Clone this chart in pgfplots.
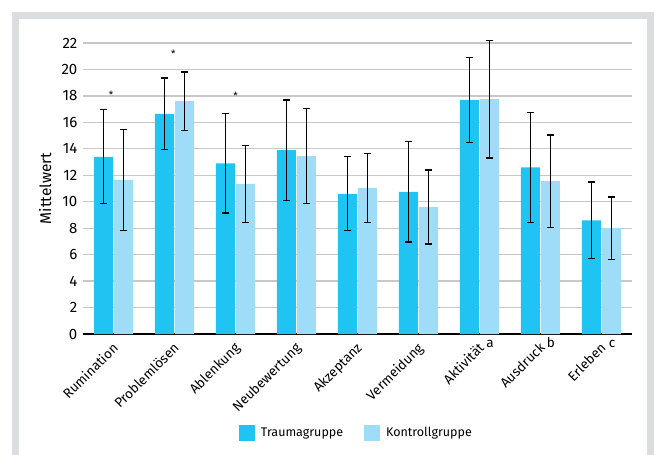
\documentclass[border=0pt]{standalone}
\usepackage{pgfplots}
\pgfplotsset{compat=1.18}
\usepackage{pgfplotstable}
\usepackage{fontspec}
\setmainfont{Fira Sans}
\definecolor{trauma}{RGB}{32,196,242}
\definecolor{kontroll}{RGB}{158,220,247}
\definecolor{framec}{RGB}{220,221,223}
\definecolor{gridc}{RGB}{200,200,200}

\pgfplotstableread{
x y e
0 13.40 3.55
1 16.65 2.70
2 12.90 3.75
3 13.90 3.80
4 10.60 2.80
5 10.75 3.80
6 17.70 3.20
7 12.60 4.15
8 8.60 2.90
}\traumadata

\pgfplotstableread{
x y e
0 11.65 3.80
1 17.60 2.20
2 11.35 2.90
3 13.45 3.60
4 11.05 2.60
5 9.60 2.80
6 17.75 4.45
7 11.55 3.50
8 8.00 2.35
}\kontrolldata

\pgfplotsset{myerr/.style={
  error bars/y dir=both, error bars/y explicit,
  error bars/error bar style={black, line width=1.3bp},
  error bars/error mark options={black, line width=1.3bp, mark size=3.7bp, rotate=90}}}

\begin{document}
\begin{tikzpicture}
\useasboundingbox (0bp,0bp) rectangle (655bp,-455bp);
\fill[white] (0bp,0bp) rectangle (655bp,-455bp);
\draw[framec, line width=7.3bp, line join=miter] (15.6bp,-470bp) -- (15.6bp,-15.6bp) -- (650.6bp,-15.6bp) -- (650.6bp,-470bp);
\begin{axis}[
  at={(83bp,-334bp)}, anchor=south west,
  scale only axis, width=549bp, height=291bp,
  xmin=-0.5, xmax=8.5, ymin=0, ymax=22,
  clip=false,
  ybar, bar width=19bp,
  axis x line=bottom, axis y line=left,
  axis line style={-},
  x axis line style={black, line width=1.2bp},
  y axis line style={draw=none},
  xtick={0,...,8},
  xticklabels={Rumination,Problemlösen,Ablenkung,Neubewertung,Akzeptanz,Vermeidung,Aktivität,Ausdruck,Erleben},
  xtick style={draw=none}, ytick style={draw=none},
  ytick={0,2,...,22},
  ymajorgrids, major grid style={gridc, line width=1.3bp},
  /pgf/number format/assume math mode=true,
  tick label style={text=black},
  yticklabel style={font=\fontsize{15bp}{17bp}\selectfont, xshift=0bp},
  xticklabel style={font=\fontsize{13.5bp}{15bp}\selectfont, xshift=-2bp, yshift=-4bp, rotate=45, anchor=north east, inner sep=1bp},
  ylabel={Mittelwert},
  ylabel style={font=\fontsize{15.5bp}{17bp}\selectfont, at={(axis description cs:-0.069,0.5)}, anchor=center},
  legend columns=2,
  legend style={draw=none, at={(0.498,-0.34)}, anchor=center, font=\fontsize{12.5bp}{14bp}\selectfont,
    /tikz/every even column/.append style={column sep=19bp}},
  legend image code/.code={\path (0bp,0bp) -- (20bp,0bp); \fill[#1,draw=none] (0bp,-8bp) rectangle (16bp,8bp);},
]
\addplot[fill=trauma, draw=none, bar shift=-10bp, myerr] table[x=x, y=y, y error=e] {\traumadata};
\addplot[fill=kontroll, draw=none, bar shift=10bp, myerr] table[x=x, y=y, y error=e] {\kontrolldata};
\legend{Traumagruppe, Kontrollgruppe}
\node[font=\fontsize{10bp}{12bp}\selectfont, inner sep=0pt] at (axis cs:-0.04,18.05) {*};
\node[font=\fontsize{10bp}{12bp}\selectfont, inner sep=0pt] at (axis cs:0.98,21.2) {*};
\node[font=\fontsize{10bp}{12bp}\selectfont, inner sep=0pt] at (axis cs:2.0,18.0) {*};
\node[font=\fontsize{13.5bp}{15bp}\selectfont, anchor=base, inner sep=0pt, xshift=10.5bp, yshift=-13bp] at (axis cs:6,0) {a};
\node[font=\fontsize{13.5bp}{15bp}\selectfont, anchor=base, inner sep=0pt, xshift=10.5bp, yshift=-13bp] at (axis cs:7,0) {b};
\node[font=\fontsize{13.5bp}{15bp}\selectfont, anchor=base, inner sep=0pt, xshift=10.5bp, yshift=-13bp] at (axis cs:8,0) {c};
\end{axis}
\end{tikzpicture}
\end{document}
